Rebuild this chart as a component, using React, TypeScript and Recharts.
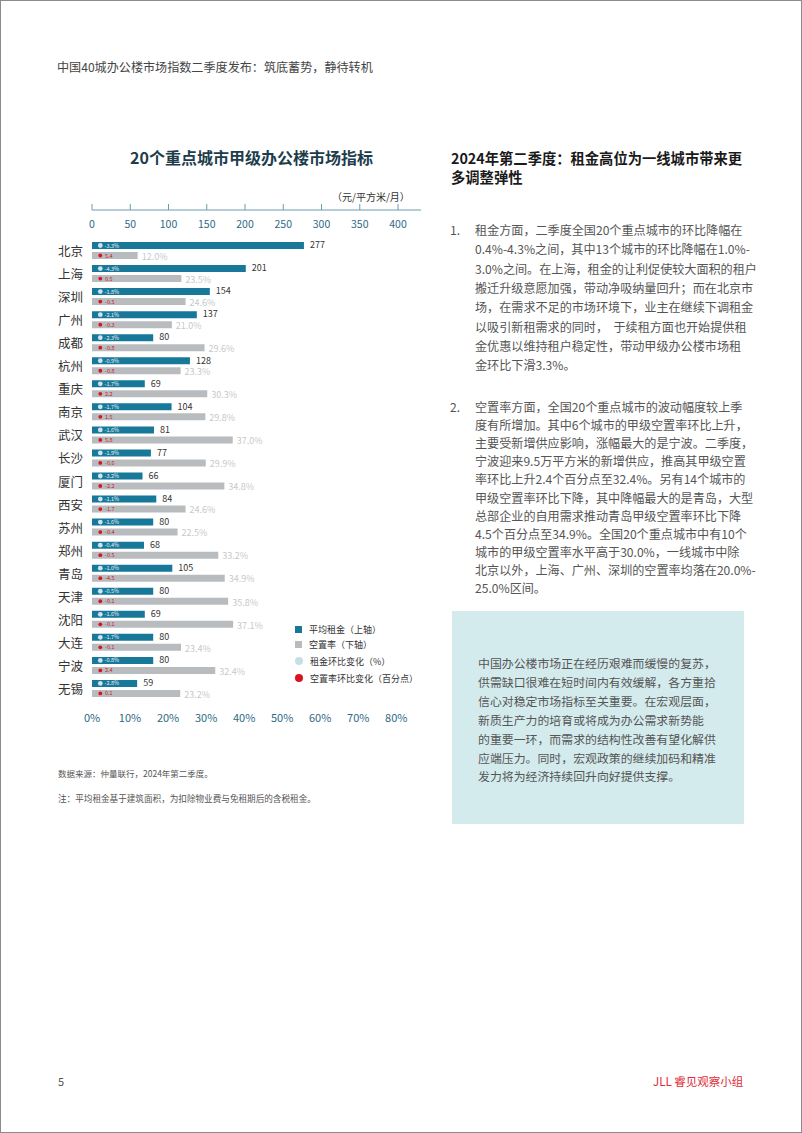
import React from "react";
import { Bar, BarChart, LabelList, XAxis, YAxis } from "recharts";

// 20个重点城市甲级办公楼市场指标 (2024Q2)
const cities = ["北京", "上海", "深圳", "广州", "成都", "杭州", "重庆", "南京", "武汉", "长沙", "厦门", "西安", "苏州", "郑州", "青岛", "天津", "沈阳", "大连", "宁波", "无锡"];
const rent = [277, 201, 154, 137, 80, 128, 69, 104, 81, 77, 66, 84, 80, 68, 105, 80, 69, 80, 80, 59];
const vacancy = [12.0, 23.5, 24.6, 21.0, 29.6, 23.3, 30.3, 29.8, 37.0, 29.9, 34.8, 24.6, 22.5, 33.2, 34.9, 35.8, 37.1, 23.4, 32.4, 23.2];
const rentChange = [-3.3, -4.3, -1.8, -2.1, -2.3, -0.9, -1.7, -1.7, -1.6, -1.9, -3.2, -1.1, -1.6, -0.4, -1.0, -0.5, -1.6, -1.7, -0.8, -2.8];
const vacancyChange = [5.4, 0.5, -0.5, -0.3, -0.8, -0.8, 2.2, 1.5, 5.8, -0.6, -2.2, -1.7, -0.4, -0.5, -4.5, -0.1, -0.1, -0.1, 2.4, 0.1];

const rentTicks = [0, 50, 100, 150, 200, 250, 300, 350, 400];
const vacancyTicks = [0, 10, 20, 30, 40, 50, 60, 70, 80];

const data = cities.map((city, i) => ({
  city,
  rent: rent[i],
  vacancy: vacancy[i],
  rentChange: rentChange[i],
  vacancyChange: vacancyChange[i],
}));

const FONT = '"Noto Sans CJK SC", "Noto Sans", sans-serif';
const RENT_COLOR = "#17789a";
const VAC_COLOR = "#b8bcbf";
const TICK_COLOR = "#2f6a85";

const para1 = [
  "租金方面，二季度全国20个重点城市的环比降幅在",
  "0.4%-4.3%之间，其中13个城市的环比降幅在1.0%-",
  "3.0%之间。在上海，租金的让利促使较大面积的租户",
  "搬迁升级意愿加强，带动净吸纳量回升；而在北京市",
  "场，在需求不足的市场环境下，业主在继续下调租金",
  "以吸引新租需求的同时，  于续租方面也开始提供租",
  "金优惠以维持租户稳定性，带动甲级办公楼市场租",
  "金环比下滑3.3%。",
];

const para2 = [
  "空置率方面，全国20个重点城市的波动幅度较上季",
  "度有所增加。其中6个城市的甲级空置率环比上升，",
  "主要受新增供应影响，涨幅最大的是宁波。二季度，",
  "宁波迎来9.5万平方米的新增供应，推高其甲级空置",
  "率环比上升2.4个百分点至32.4%。另有14个城市的",
  "甲级空置率环比下降，其中降幅最大的是青岛，大型",
  "总部企业的自用需求推动青岛甲级空置率环比下降",
  "4.5个百分点至34.9%。全国20个重点城市中有10个",
  "城市的甲级空置率水平高于30.0%，一线城市中除",
  "北京以外，上海、广州、深圳的空置率均落在20.0%-",
  "25.0%区间。",
];

const boxLines = [
  "中国办公楼市场正在经历艰难而缓慢的复苏，",
  "供需缺口很难在短时间内有效缓解，各方重拾",
  "信心对稳定市场指标至关重要。在宏观层面，",
  "新质生产力的培育或将成为办公需求新势能",
  "的重要一环，而需求的结构性改善有望化解供",
  "应端压力。同时，宏观政策的继续加码和精准",
  "发力将为经济持续回升向好提供支撑。",
];

const legendItems = [
  { label: "平均租金（上轴）", color: RENT_COLOR, shape: "square" },
  { label: "空置率（下轴）", color: VAC_COLOR, shape: "square" },
  { label: "租金环比变化（%）", color: "#c5dfe9", shape: "circle" },
  { label: "空置率环比变化（百分点）", color: "#d9141f", shape: "circle" },
];

const CityTick = (props: any) => (
  <text x={props.x - 9} y={props.y} textAnchor="end" dominantBaseline="central" fontSize={12.5} fill="#333" fontFamily={FONT}>
    {props.payload.value}
  </text>
);

const RentTick = (props: any) => (
  <text x={props.x} y={props.y + 19} textAnchor="middle" dominantBaseline="central" fontSize={10.5} fill={TICK_COLOR} fontFamily={FONT}>
    {props.payload.value}
  </text>
);

const VacTick = (props: any) => (
  <text x={props.x} y={props.y + 17} textAnchor="middle" dominantBaseline="central" fontSize={11} fill={TICK_COLOR} fontFamily={FONT}>
    {props.payload.value}%
  </text>
);

const renderRentChange = (p: any) => {
  const cy = p.y + p.height / 2;
  return (
    <g>
      <circle cx={p.x + 8.3} cy={cy} r={2.4} fill="#cde4ee" />
      <text x={p.x + 12.5} y={cy} dominantBaseline="central" fontSize={5.5} fill="#e8f2f6" fontFamily={FONT}>
        {p.value.toFixed(1)}%
      </text>
    </g>
  );
};

const renderVacChange = (p: any) => {
  const cy = p.y + p.height / 2;
  return (
    <g>
      <circle cx={p.x + 8.3} cy={cy} r={1.9} fill="#d9141f" />
      <text x={p.x + 13} y={cy} dominantBaseline="central" fontSize={5.5} fill="#c8202c" fontFamily={FONT}>
        {p.value.toFixed(1)}
      </text>
    </g>
  );
};

// value label to the right of a bar, with a small vertical nudge
const sideLabel = (color: string, dy: number, fmt: (v: number) => string, gap: number) => (p: any) => (
  <text
    x={p.x + p.width + gap}
    y={p.y + p.height / 2 + dy}
    dominantBaseline="central"
    fontSize={9}
    fill={color}
    fontFamily={FONT}
  >
    {fmt(Number(p.value))}
  </text>
);

const Lines = ({ lines, left, top, step, size, color, weight }: any) => (
  <>
    {lines.map((t: string, i: number) => (
      <div
        key={i}
        style={{
          position: "absolute",
          left,
          top: top + i * step - 10,
          height: 20,
          lineHeight: "20px",
          fontSize: size,
          color,
          fontWeight: weight || 400,
          whiteSpace: "pre",
        }}
      >
        {t}
      </div>
    ))}
  </>
);

export default function App() {
  return (
    <div
      style={{
        position: "absolute",
        left: 0,
        top: 0,
        width: 802,
        height: 1133,
        boxSizing: "border-box",
        border: "1px solid #8c8c8c",
        background: "#fff",
        fontFamily: FONT,
        overflow: "hidden",
      }}
    >
      <Lines lines={["中国40城办公楼市场指数二季度发布：筑底蓄势，静待转机"]} left={56} top={66} step={0} size={12.1} color="#444" />

      {/* chart title */}
      <Lines lines={["20个重点城市甲级办公楼市场指标"]} left={129} top={156} step={0} size={16} color="#1d3d4c" weight={700} />
      <Lines lines={["（元/平方米/月）"]} left={331} top={196} step={0} size={10} color="#333" />

      <div style={{ position: "absolute", left: 0, top: 190 }}>
        <BarChart
          layout="vertical"
          width={420}
          height={539}
          data={data}
          margin={{ top: 0, right: 0, bottom: 0, left: 0 }}
          barGap={3}
        >
          <XAxis
            xAxisId="rent"
            type="number"
            orientation="top"
            domain={[0, 430]}
            ticks={rentTicks}
            height={19}
            axisLine={{ stroke: "#6a9cb1" }}
            tickLine={{ stroke: "#6a9cb1" }}
            tickSize={6}
            tickMargin={0}
            tick={<RentTick />}
          />
          <XAxis
            xAxisId="vac"
            type="number"
            orientation="bottom"
            domain={[0, 86.5]}
            ticks={vacancyTicks}
            height={30}
            axisLine={false}
            tickLine={false}
            tickSize={0}
            tickMargin={0}
            tick={<VacTick />}
          />
          <YAxis
            type="category"
            dataKey="city"
            width={91}
            axisLine={false}
            tickLine={false}
            tickSize={0}
            tickMargin={0}
            interval={0}
            padding={{ top: 29, bottom: 0 }}
            tick={<CityTick />}
          />
          <Bar xAxisId="rent" dataKey="rent" fill={RENT_COLOR} barSize={7} isAnimationActive={false}>
            <LabelList dataKey="rent" content={sideLabel("#333", -0.75, (v) => String(v), 6)} />
            <LabelList dataKey="rentChange" content={renderRentChange} />
          </Bar>
          <Bar xAxisId="vac" dataKey="vacancy" fill={VAC_COLOR} barSize={7} isAnimationActive={false}>
            <LabelList dataKey="vacancy" content={sideLabel("#c6c9cc", 0.75, (v) => `${v.toFixed(1)}%`, 4)} />
            <LabelList dataKey="vacancyChange" content={renderVacChange} />
          </Bar>
        </BarChart>
      </div>

      {/* legend */}
      {legendItems.map((it, i) => (
        <div key={it.label} style={{ position: "absolute", left: 294, top: [628, 643, 660, 677][i] - 8, height: 16, display: "flex", alignItems: "center", fontSize: 9, color: "#333" }}>
          <span
            style={{
              display: "inline-block",
              width: it.shape === "square" ? 7 : 8,
              height: it.shape === "square" ? 7 : 8,
              borderRadius: it.shape === "circle" ? 4 : 0,
              background: it.color,
              marginRight: 7,
            }}
          />
          {it.label}
        </div>
      ))}

      <Lines lines={["数据来源：仲量联行，2024年第二季度。"]} left={57} top={772} step={0} size={8.5} color="#555" />
      <Lines lines={["注：平均租金基于建筑面积，为扣除物业费与免租期后的含税租金。"]} left={57} top={797} step={0} size={8.6} color="#555" />

      {/* right column */}
      <Lines lines={["2024年第二季度：租金高位为一线城市带来更", "多调整弹性"]} left={450} top={157} step={19} size={14.3} color="#1a1a1a" weight={700} />
      <Lines lines={["1."]} left={449} top={229} step={0} size={12.1} color="#555" />
      <Lines lines={para1} left={474} top={229} step={19.3} size={12.1} color="#555" />
      <Lines lines={["2."]} left={449} top={406} step={0} size={12.1} color="#555" />
      <Lines lines={para2} left={474} top={406} step={18.1} size={12.1} color="#555" />

      <div style={{ position: "absolute", left: 451, top: 610, width: 292, height: 213, background: "#d4ebed" }} />
      <Lines lines={boxLines} left={477} top={662} step={18.9} size={11.9} color="#555" />

      <Lines lines={["5"]} left={57} top={1080} step={0} size={11} color="#555" />
      <Lines lines={["JLL 睿见观察小组"]} left={652} top={1080} step={0} size={11.5} color="#de2a36" />
    </div>
  );
}
